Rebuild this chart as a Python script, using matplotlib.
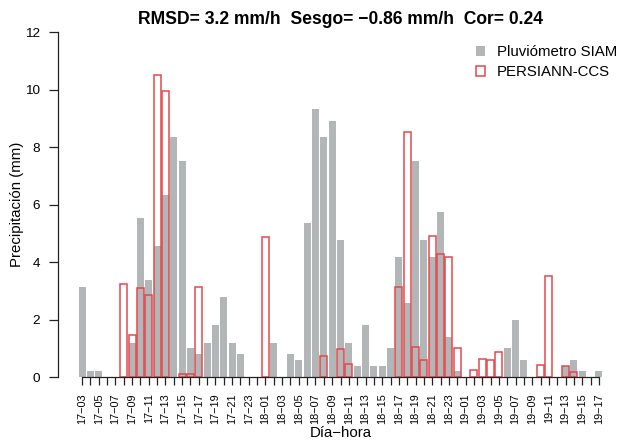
import numpy as np
import matplotlib
matplotlib.use('Agg')
import matplotlib.pyplot as plt
from matplotlib.patches import Patch

plt.rcParams['font.family'] = ['Liberation Sans', 'DejaVu Sans']

# hourly series, 17-03 .. 19-17
siam = [3.15, 0.2, 0.2, 0, 0, 0, 1.2, 5.54, 3.37, 4.55, 6.33, 8.34, 7.51, 1.0,
        0.8, 1.2, 1.8, 2.78, 1.2, 0.8, 0, 0, 0, 1.2, 0, 0.8, 0.59, 5.36, 9.32,
        8.34, 8.9, 4.77, 1.2, 0.4, 1.8, 0.4, 0.4, 1.0, 4.17, 2.57, 7.51, 4.77,
        4.17, 5.74, 1.39, 0.2, 0, 0, 0, 0, 0, 1.0, 1.98, 0.59, 0, 0, 0, 0, 0.37,
        0.59, 0.2, 0, 0.2]
persiann = [0, 0, 0, 0, 0, 3.25, 1.45, 3.1, 2.85, 10.5, 9.96, 0, 0.1, 0.1,
            3.12, 0, 0, 0, 0, 0, 0, 0, 4.87, 0, 0, 0, 0, 0, 0, 0.72, 0, 0.96,
            0.44, 0, 0, 0, 0, 0, 3.14, 8.52, 1.03, 0.59, 4.9, 4.27, 4.18, 1.02,
            0, 0.23, 0.63, 0.59, 0.87, 0, 0, 0, 0, 0.43, 3.51, 0, 0.4, 0.16,
            0, 0, 0]

dias = [17] * 21 + [18] * 24 + [19] * 18
horas = list(range(3, 24)) + list(range(24)) + list(range(18))
etiquetas = ['%d\u2212%02d' % (d, h) for d, h in zip(dias, horas)]

titulo = 'RMSD= 3.2 mm/h  Sesgo= \u22120.86 mm/h  Cor= 0.24'

gris = '#b3b6b6'
rojo = '#e5484d'

n = len(siam)
x = 0.7 + 1.2 * np.arange(n)

fig = plt.figure(figsize=(6.19, 4.41), dpi=100)
ax = fig.add_axes([57.6 / 619, 1 - 377 / 441, (623.4 - 57.6) / 619, (377 - 32.3) / 441])

siam = np.array(siam)
persiann = np.array(persiann)
ms = siam > 0
ax.bar(x[ms], siam[ms], width=1.0, color=gris, edgecolor='none')
mp = persiann > 0
ax.bar(x[mp], persiann[mp], width=1.0, facecolor='none', edgecolor=rojo, linewidth=1.1)

ax.set_xlim(-2.816, 78.616)
ax.set_ylim(0, 12)
for s in ['top', 'right']:
    ax.spines[s].set_visible(False)
ax.spines['left'].set_bounds(0, 12)
ax.spines['bottom'].set_bounds(x[0], x[-1])
for s in ['left', 'bottom']:
    ax.spines[s].set_color('#222222')
    ax.spines[s].set_linewidth(0.9)

ax.set_yticks(np.arange(0, 13, 2))
ax.set_xticks(x)
ax.set_xticklabels([e if i % 2 == 0 else '' for i, e in enumerate(etiquetas)],
                   rotation=90, fontsize=7.8)
ax.tick_params(axis='y', labelsize=9.7, length=6.5, pad=6, width=0.9, color='#222222')
ax.tick_params(axis='x', length=5.8, pad=6, width=0.9, color='#222222')

fig.text(340.5 / 619, 1 - 20 / 441, titulo, ha='center', va='center',
         fontsize=12.65, fontweight='bold')
fig.text(17 / 619, 1 - 204 / 441, 'Precipitación (mm)', rotation=90,
         ha='center', va='center', fontsize=10.8)
fig.text(340.5 / 619, 1 - 433 / 441, 'Día\u2212hora', ha='center', va='center',
         fontsize=10.8)

handles = [Patch(facecolor=gris, edgecolor='none', label='Pluviómetro SIAM'),
           Patch(facecolor='none', edgecolor=rojo, linewidth=1.1, label='PERSIANN-CCS')]
fig.legend(handles=handles, loc='upper left', bbox_to_anchor=(476 / 619, 1 - 45.5 / 441),
           frameon=False, fontsize=10.8, handlelength=0.6, handleheight=0.6,
           handletextpad=0.8, labelspacing=0.4, borderaxespad=0, borderpad=0)

fig.savefig('out.png', dpi=100)
